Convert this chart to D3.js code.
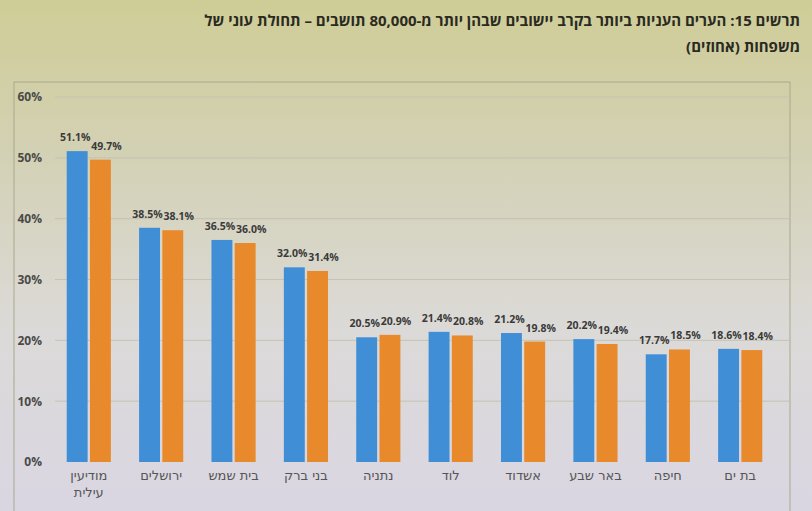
<!DOCTYPE html>
<html><head><meta charset="utf-8">
<script src="https://cdn.jsdelivr.net/npm/d3@7"></script>
<style>html,body{margin:0;padding:0;overflow:hidden;}svg{display:block;}</style>
</head><body>
<script>
const categories = ["מודיעין עילית","ירושלים","בית שמש","בני ברק","נתניה","לוד","אשדוד","באר שבע","חיפה","בת ים"];
const seriesA = [51.1,38.5,36.5,32.0,20.5,21.4,21.2,20.2,17.7,18.6];
const seriesB = [49.7,38.1,36.0,31.4,20.9,20.8,19.8,19.4,18.5,18.4];
const yTicks = [0,10,20,30,40,50,60];
const titleLines = ["תרשים 15: הערים העניות ביותר בקרב יישובים שבהן יותר מ-80,000 תושבים – תחולת עוני של","משפחות (אחוזים)"];

const W=812,H=511;
const svg=d3.select("body").append("svg").attr("width",W).attr("height",H);
const defs=svg.append("defs");
const g0=defs.append("linearGradient").attr("id","bg").attr("x1",0).attr("y1",0).attr("x2",0).attr("y2",1);
g0.append("stop").attr("offset","0%").attr("stop-color","#cfcd96");
g0.append("stop").attr("offset","30%").attr("stop-color","#d3d1b4");
g0.append("stop").attr("offset","65%").attr("stop-color","#dcdad8");
g0.append("stop").attr("offset","100%").attr("stop-color","#d9d6e2");
svg.append("rect").attr("width",W).attr("height",H).attr("fill","url(#bg)");

// title
const tt=svg.append("text").attr("font-family","'Open Sans','DejaVu Sans',sans-serif")
  .attr("font-weight","bold").attr("font-size",15).attr("fill","#2a2a22")
  .attr("direction","rtl").attr("text-anchor","start");
titleLines.forEach((l,i)=>tt.append("tspan").attr("x",800).attr("y",26+i*26).text(l));

// frame
svg.append("rect").attr("x",14).attr("y",82).attr("width",776).attr("height",440)
  .attr("fill","none").attr("stroke","#a9a88e").attr("stroke-width",1);

const m={l:55,r:790,t:97,b:462};
const y=d3.scaleLinear().domain([0,60]).range([m.b,m.t]);
const x=d3.scaleBand().domain(categories).range([45,784]).paddingInner(0.39).paddingOuter(0.3);
const xs=d3.scaleBand().domain(["a","b"]).range([0,x.bandwidth()]).paddingInner(0.1);

// grid
svg.append("g").selectAll("line").data(yTicks.filter(d=>d>0)).join("line")
  .attr("x1",m.l).attr("x2",m.r).attr("y1",d=>y(d)).attr("y2",d=>y(d))
  .attr("stroke","#c3c2b4").attr("stroke-width",1);

// y axis
const ya=svg.append("g").attr("transform",`translate(${m.l-10},0)`)
  .call(d3.axisLeft(y).tickValues(yTicks).tickFormat(d=>d+"%").tickSize(0));
ya.select(".domain").remove();
ya.selectAll("text").attr("font-family","'Open Sans','DejaVu Sans',sans-serif")
  .attr("font-size",12).attr("font-weight","bold").attr("fill","#4a4a48");

const font="'Open Sans','DejaVu Sans',sans-serif";
const groups=svg.append("g").selectAll("g").data(categories).join("g")
  .attr("transform",d=>`translate(${x(d)},0)`);
groups.append("rect").attr("x",xs("a")).attr("width",xs.bandwidth())
  .attr("y",(d,i)=>y(seriesA[i])).attr("height",(d,i)=>y(0)-y(seriesA[i])).attr("fill","#3f8ed6");
groups.append("rect").attr("x",xs("b")).attr("width",xs.bandwidth())
  .attr("y",(d,i)=>y(seriesB[i])).attr("height",(d,i)=>y(0)-y(seriesB[i])).attr("fill","#e8892c");
groups.append("text").attr("x",xs("a")+xs.bandwidth()/2-2).attr("y",(d,i)=>y(seriesA[i])-10)
  .attr("text-anchor","middle").attr("font-family",font).attr("font-size",10.5).attr("font-weight","bold")
  .attr("fill","#3a3a3a").text((d,i)=>seriesA[i].toFixed(1)+"%");
groups.append("text").attr("x",xs("b")+xs.bandwidth()/2+6).attr("y",(d,i)=>y(seriesB[i])-10)
  .attr("text-anchor","middle").attr("font-family",font).attr("font-size",10.5).attr("font-weight","bold")
  .attr("fill","#3a3a3a").text((d,i)=>seriesB[i].toFixed(1)+"%");

// x labels
const xl=groups.append("text").attr("font-family","'DejaVu Sans',sans-serif").attr("font-size",13)
  .attr("fill","#555555").attr("text-anchor","middle").attr("direction","rtl");
xl.each(function(d){
  const t=d3.select(this);
  const parts = d==="מודיעין עילית" ? ["מודיעין","עילית"] : [d];
  parts.forEach((p,i)=>t.append("tspan").attr("x",x.bandwidth()/2).attr("y",m.b+18+i*17).text(p));
});
</script>
</body></html>
